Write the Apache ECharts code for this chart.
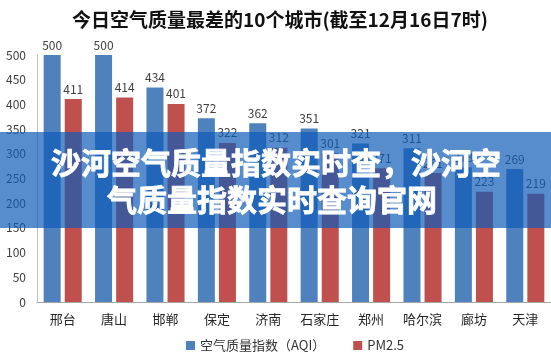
<!DOCTYPE html>
<html><head><meta charset="utf-8">
<script src="https://cdn.jsdelivr.net/npm/echarts@6/dist/echarts.min.js"></script>
<style>html,body{margin:0;padding:0;background:#fff}#c{width:551px;height:360px}</style>
</head><body><div id="c"></div>
<script>
const titleText = '今日空气质量最差的10个城市(截至12月16日7时)';
const cities = ['邢台','唐山','邯郸','保定','济南','石家庄','郑州','哈尔滨','廊坊','天津'];
const aqi = [500,500,434,372,362,351,321,311,273,269];
const pm25 = [411,414,401,322,312,301,271,261,223,219];
const seriesNames = ['空气质量指数（AQI）','PM2.5'];
const bannerLines = ['沙河空气质量指数实时查，沙河空','气质量指数实时查询官网'];

const FONT = '"Noto Sans CJK SC", "Noto Sans", sans-serif';
const chart = echarts.init(document.getElementById('c'), null, {renderer:'canvas'});
const labelStyle = {show:true, position:'top', distance:4, color:'#404040', fontSize:12, fontFamily:FONT};
chart.setOption({
  animation:false,
  textStyle:{fontFamily:FONT},
  title:{text:titleText, left:67, top:5, textStyle:{fontSize:19, fontWeight:'bold', color:'#111', fontFamily:FONT}},
  legend:{data:seriesNames, bottom:3, left:181, icon:'rect', itemWidth:9, itemHeight:9, itemGap:28,
    textStyle:{fontSize:13, color:'#333', fontFamily:FONT}},
  grid:{left:37, right:0, top:55, bottom:58},
  xAxis:{type:'category', data:cities, axisTick:{show:false},
    axisLine:{lineStyle:{color:'#a6a6a6'}},
    axisLabel:{color:'#262626', fontSize:13, margin:11, fontFamily:FONT}},
  yAxis:{type:'value', min:0, max:500, interval:50, splitLine:{show:false},
    axisLine:{show:true, lineStyle:{color:'#bfbfbf'}}, axisTick:{show:false},
    axisLabel:{color:'#404040', fontSize:12, margin:11, fontFamily:FONT}},
  series:[
    {name:seriesNames[0], type:'bar', data:aqi, barWidth:17, barGap:'24%', itemStyle:{color:'#4f81bd'}, label:labelStyle},
    {name:seriesNames[1], type:'bar', data:pm25, barWidth:17, itemStyle:{color:'#c0504d'}, label:labelStyle}
  ],
  graphic:[
    {type:'rect', z:100, left:0, top:132, shape:{width:551, height:96}, style:{fill:'rgba(16,91,184,0.7)'}},
    {type:'text', z:101, x:276, y:163, style:{text:bannerLines[0], fill:'#fff', stroke:'#fff', lineWidth:0.8, font:'bold 30px ' + FONT, textAlign:'center', textVerticalAlign:'middle'}},
    {type:'text', z:101, x:272, y:200, style:{text:bannerLines[1], fill:'#fff', stroke:'#fff', lineWidth:0.8, font:'bold 30px ' + FONT, textAlign:'center', textVerticalAlign:'middle'}}
  ]
});
</script></body></html>
